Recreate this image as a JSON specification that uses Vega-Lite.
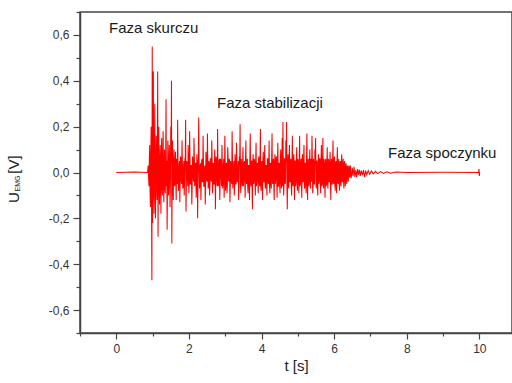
{
"$schema": "https://vega.github.io/schema/vega-lite/v6.json",
"width": 432, "height": 321,
"autosize": {"type": "none"},
"padding": {"left": 80, "top": 12, "right": 0, "bottom": 50},
"background": "white",
"config": {"view": {"stroke": "#444", "strokeWidth": 1.5}, "font": "Liberation Sans"},
"resolve": {"axis": {"x": "independent", "y": "independent"}},
"layer": [
{
"data": {"values": [
{"t":0,"u":0},{"t":0.5,"u":0.002},{"t":0.86,"u":0},
{"t":0.88,"u":0.03},{"t":0.90,"u":-0.06},{"t":0.92,"u":0.12},{"t":0.94,"u":-0.15},{"t":0.96,"u":0.2},{"t":0.98,"u":-0.47},{"t":0.99,"u":0.55},{"t":1.00,"u":-0.22},{"t":1.02,"u":0.44},{"t":1.04,"u":-0.18},{"t":1.06,"u":0.3},{"t":1.08,"u":-0.2},{"t":1.10,"u":0.16},{"t":1.12,"u":-0.12},{"t":1.14,"u":0.44},{"t":1.15,"u":-0.28},{"t":1.17,"u":0.2},{"t":1.19,"u":-0.14},{"t":1.21,"u":0.12},{"t":1.23,"u":-0.18},{"t":1.25,"u":0.15},{"t":1.27,"u":-0.1},{"t":1.29,"u":0.18},{"t":1.31,"u":-0.13},{"t":1.33,"u":0.1},{"t":1.35,"u":-0.09},{"t":1.37,"u":0.32},{"t":1.40,"u":-0.25},{"t":1.42,"u":0.14},{"t":1.44,"u":-0.1},{"t":1.46,"u":0.12},{"t":1.48,"u":-0.15},{"t":1.50,"u":0.2},{"t":1.52,"u":0.40},{"t":1.53,"u":-0.31},{"t":1.55,"u":0.14},{"t":1.57,"u":-0.12},{"t":1.59,"u":0.1},
{"t":0.89,"u":-0.02},{"t":0.91,"u":0.05},{"t":0.93,"u":-0.08},{"t":0.95,"u":0.06},{"t":0.97,"u":-0.1},{"t":1.01,"u":0.08},{"t":1.03,"u":-0.07},{"t":1.05,"u":0.06},{"t":1.07,"u":-0.08},{"t":1.09,"u":0.05},{"t":1.11,"u":-0.06},{"t":1.13,"u":0.07},{"t":1.16,"u":0.05},{"t":1.18,"u":-0.06},{"t":1.20,"u":0.04},{"t":1.22,"u":-0.07},{"t":1.24,"u":0.06},{"t":1.26,"u":-0.05},{"t":1.28,"u":0.07},{"t":1.30,"u":-0.06},{"t":1.32,"u":0.05},{"t":1.34,"u":-0.07},{"t":1.36,"u":0.04},{"t":1.38,"u":-0.06},{"t":1.39,"u":0.05},{"t":1.41,"u":-0.05},{"t":1.43,"u":0.06},{"t":1.45,"u":-0.04},{"t":1.47,"u":0.05},{"t":1.49,"u":-0.06},{"t":1.51,"u":0.04},{"t":1.54,"u":0.05},{"t":1.56,"u":-0.06},{"t":1.58,"u":0.05},{"t":1.60,"u":-0.05},
{"t":1.61,"u":-0.06},{"t":1.63,"u":0.09},{"t":1.65,"u":-0.12},{"t":1.67,"u":0.04},{"t":1.69,"u":0.23},{"t":1.71,"u":-0.08},{"t":1.73,"u":0.03},{"t":1.75,"u":-0.13},{"t":1.77,"u":0.07},{"t":1.79,"u":-0.04},
{"t":1.81,"u":0.14},{"t":1.83,"u":-0.07},{"t":1.85,"u":0.02},{"t":1.87,"u":-0.1},{"t":1.89,"u":0.06},{"t":1.91,"u":0.23},{"t":1.92,"u":-0.17},{"t":1.94,"u":0.05},{"t":1.96,"u":-0.03},{"t":1.98,"u":0.12},
{"t":2.00,"u":-0.09},{"t":2.02,"u":0.18},{"t":2.04,"u":-0.05},{"t":2.06,"u":0.03},{"t":2.08,"u":-0.14},{"t":2.10,"u":0.07},{"t":2.12,"u":-0.02},{"t":2.14,"u":0.15},{"t":2.16,"u":-0.06},{"t":2.18,"u":0.04},
{"t":2.20,"u":-0.11},{"t":2.22,"u":0.08},{"t":2.24,"u":-0.2},{"t":2.26,"u":0.06},{"t":2.27,"u":0.24},{"t":2.29,"u":-0.07},{"t":2.31,"u":0.03},{"t":2.33,"u":-0.12},{"t":2.35,"u":0.05},{"t":2.37,"u":-0.04},
{"t":2.39,"u":0.16},{"t":2.41,"u":-0.06},{"t":2.43,"u":0.02},{"t":2.45,"u":-0.14},{"t":2.47,"u":0.09},{"t":2.49,"u":-0.03},{"t":2.51,"u":0.17},{"t":2.53,"u":-0.07},{"t":2.55,"u":0.05},{"t":2.57,"u":-0.1},
{"t":2.59,"u":0.06},{"t":2.61,"u":-0.03},{"t":2.63,"u":0.14},{"t":2.65,"u":-0.09},{"t":2.67,"u":0.04},{"t":2.69,"u":-0.05},{"t":2.71,"u":0.1},{"t":2.73,"u":-0.16},{"t":2.75,"u":0.07},{"t":2.77,"u":-0.04},
{"t":2.79,"u":0.19},{"t":2.81,"u":-0.06},{"t":2.83,"u":0.05},{"t":2.85,"u":-0.12},{"t":2.87,"u":0.06},{"t":2.89,"u":-0.02},{"t":2.91,"u":0.12},{"t":2.93,"u":-0.07},{"t":2.95,"u":0.03},{"t":2.97,"u":-0.11},
{"t":2.99,"u":0.16},{"t":3.01,"u":-0.08},{"t":3.03,"u":0.04},{"t":3.05,"u":-0.09},{"t":3.07,"u":0.11},{"t":3.09,"u":-0.03},{"t":3.11,"u":0.06},{"t":3.13,"u":-0.13},{"t":3.15,"u":0.05},{"t":3.17,"u":-0.04},
{"t":3.19,"u":0.18},{"t":3.21,"u":-0.07},{"t":3.23,"u":0.03},{"t":3.25,"u":-0.1},{"t":3.27,"u":0.08},{"t":3.29,"u":-0.05},{"t":3.31,"u":0.13},{"t":3.33,"u":-0.04},{"t":3.35,"u":0.02},{"t":3.37,"u":-0.12},
{"t":3.39,"u":0.07},{"t":3.41,"u":0.21},{"t":3.43,"u":-0.09},{"t":3.45,"u":0.04},{"t":3.47,"u":-0.06},{"t":3.49,"u":0.11},{"t":3.51,"u":-0.03},{"t":3.53,"u":0.05},{"t":3.55,"u":-0.11},{"t":3.57,"u":0.14},
{"t":3.59,"u":-0.05},{"t":3.61,"u":0.06},{"t":3.63,"u":-0.09},{"t":3.65,"u":0.03},{"t":3.67,"u":-0.12},{"t":3.69,"u":0.17},{"t":3.71,"u":-0.06},{"t":3.73,"u":0.05},{"t":3.75,"u":-0.16},{"t":3.77,"u":0.08},
{"t":3.79,"u":-0.04},{"t":3.81,"u":0.05},{"t":3.83,"u":-0.1},{"t":3.85,"u":0.13},{"t":3.87,"u":-0.03},{"t":3.89,"u":0.04},{"t":3.91,"u":-0.09},{"t":3.93,"u":0.07},{"t":3.95,"u":-0.06},{"t":3.97,"u":0.19},
{"t":3.99,"u":-0.08},{"t":4.01,"u":0.05},{"t":4.03,"u":-0.12},{"t":4.05,"u":0.09},{"t":4.07,"u":-0.04},{"t":4.09,"u":0.12},{"t":4.11,"u":-0.07},{"t":4.13,"u":0.03},{"t":4.15,"u":-0.1},{"t":4.17,"u":0.06},
{"t":4.19,"u":-0.05},{"t":4.21,"u":0.14},{"t":4.23,"u":-0.09},{"t":4.25,"u":0.04},{"t":4.27,"u":-0.07},{"t":4.29,"u":0.17},{"t":4.31,"u":-0.05},{"t":4.33,"u":0.06},{"t":4.35,"u":-0.12},{"t":4.37,"u":0.08},
{"t":4.39,"u":-0.03},{"t":4.41,"u":0.07},{"t":4.43,"u":-0.11},{"t":4.45,"u":0.13},{"t":4.47,"u":-0.06},{"t":4.49,"u":0.04},{"t":4.51,"u":-0.09},{"t":4.53,"u":0.1},{"t":4.55,"u":-0.07},{"t":4.57,"u":0.15},
{"t":4.59,"u":0.22},{"t":4.61,"u":-0.1},{"t":4.63,"u":0.06},{"t":4.65,"u":-0.05},{"t":4.67,"u":0.14},{"t":4.69,"u":0.22},{"t":4.71,"u":-0.16},{"t":4.73,"u":0.08},{"t":4.75,"u":-0.07},{"t":4.77,"u":0.12},
{"t":4.79,"u":-0.04},{"t":4.81,"u":0.06},{"t":4.83,"u":-0.1},{"t":4.85,"u":0.16},{"t":4.87,"u":-0.06},{"t":4.89,"u":0.08},{"t":4.91,"u":-0.12},{"t":4.93,"u":0.05},{"t":4.95,"u":-0.04},{"t":4.97,"u":0.11},
{"t":4.99,"u":-0.08},{"t":5.01,"u":0.05},{"t":5.03,"u":-0.09},{"t":5.05,"u":0.16},{"t":5.07,"u":-0.05},{"t":5.09,"u":0.06},{"t":5.11,"u":-0.11},{"t":5.13,"u":0.08},{"t":5.15,"u":-0.04},{"t":5.17,"u":0.12},
{"t":5.19,"u":-0.07},{"t":5.21,"u":0.04},{"t":5.23,"u":-0.09},{"t":5.25,"u":0.17},{"t":5.27,"u":-0.12},{"t":5.29,"u":0.06},{"t":5.31,"u":-0.04},{"t":5.33,"u":0.1},{"t":5.35,"u":-0.07},{"t":5.37,"u":0.05},
{"t":5.39,"u":0.16},{"t":5.41,"u":-0.09},{"t":5.43,"u":0.06},{"t":5.45,"u":-0.05},{"t":5.47,"u":0.1},{"t":5.49,"u":0.15},{"t":5.51,"u":-0.07},{"t":5.53,"u":0.05},{"t":5.55,"u":-0.1},{"t":5.57,"u":0.08},
{"t":5.59,"u":-0.04},{"t":5.61,"u":0.06},{"t":5.63,"u":-0.09},{"t":5.65,"u":0.12},{"t":5.67,"u":-0.05},{"t":5.69,"u":0.15},{"t":5.71,"u":-0.07},{"t":5.73,"u":0.04},{"t":5.75,"u":-0.11},{"t":5.77,"u":0.06},
{"t":5.79,"u":-0.05},{"t":5.81,"u":0.11},{"t":5.83,"u":-0.07},{"t":5.85,"u":0.05},{"t":5.87,"u":-0.04},{"t":5.89,"u":0.09},{"t":5.91,"u":-0.12},{"t":5.93,"u":0.06},{"t":5.95,"u":-0.05},{"t":5.97,"u":0.14},
{"t":5.99,"u":-0.05},{"t":6.01,"u":0.07},{"t":6.03,"u":-0.08},{"t":6.05,"u":0.05},{"t":6.07,"u":-0.09},{"t":6.09,"u":0.11},{"t":6.11,"u":-0.05},{"t":6.13,"u":0.06},{"t":6.15,"u":-0.08},{"t":6.17,"u":0.05},
{"t":6.19,"u":-0.06},{"t":6.21,"u":0.08},{"t":6.23,"u":-0.04},{"t":6.25,"u":0.06},{"t":6.27,"u":-0.07},{"t":6.29,"u":0.05},{"t":6.31,"u":-0.06},{"t":6.33,"u":0.04},{"t":6.35,"u":-0.05},{"t":6.37,"u":0.03},{"t":6.39,"u":-0.04},{"t":6.41,"u":0.03},{"t":6.43,"u":-0.02},{"t":6.45,"u":0.03},{"t":6.47,"u":-0.025},
{"t":1.62,"u":0.05},{"t":1.64,"u":-0.04},{"t":1.66,"u":0.06},{"t":1.68,"u":-0.05},{"t":1.70,"u":0.03},{"t":1.72,"u":-0.06},{"t":1.74,"u":0.05},{"t":1.76,"u":-0.03},{"t":1.78,"u":0.06},{"t":1.80,"u":-0.05},{"t":1.82,"u":0.04},{"t":1.84,"u":-0.06},{"t":1.86,"u":0.05},{"t":1.88,"u":-0.04},{"t":1.90,"u":0.06},
{"t":1.93,"u":-0.05},{"t":1.95,"u":0.04},{"t":1.97,"u":-0.06},{"t":1.99,"u":0.05},{"t":2.01,"u":-0.04},{"t":2.03,"u":0.06},{"t":2.05,"u":-0.05},{"t":2.07,"u":0.03},{"t":2.09,"u":-0.06},{"t":2.11,"u":0.05},{"t":2.13,"u":-0.04},{"t":2.15,"u":0.06},{"t":2.17,"u":-0.05},{"t":2.19,"u":0.04},{"t":2.21,"u":-0.06},{"t":2.23,"u":0.05},{"t":2.25,"u":-0.04},
{"t":2.28,"u":0.05},{"t":2.30,"u":-0.06},{"t":2.32,"u":0.04},{"t":2.34,"u":-0.05},{"t":2.36,"u":0.06},{"t":2.38,"u":-0.04},{"t":2.40,"u":0.05},{"t":2.42,"u":-0.06},{"t":2.44,"u":0.03},{"t":2.46,"u":-0.05},{"t":2.48,"u":0.06},{"t":2.50,"u":-0.04},{"t":2.52,"u":0.05},{"t":2.54,"u":-0.06},{"t":2.56,"u":0.04},{"t":2.58,"u":-0.05},{"t":2.60,"u":0.06},{"t":2.62,"u":-0.04},{"t":2.64,"u":0.05},{"t":2.66,"u":-0.06},{"t":2.68,"u":0.04},{"t":2.70,"u":-0.05},{"t":2.72,"u":0.06},{"t":2.74,"u":-0.04},{"t":2.76,"u":0.05},{"t":2.78,"u":-0.06},{"t":2.80,"u":0.03},{"t":2.82,"u":-0.05},{"t":2.84,"u":0.06},{"t":2.86,"u":-0.04},{"t":2.88,"u":0.05},{"t":2.90,"u":-0.06},{"t":2.92,"u":0.04},{"t":2.94,"u":-0.05},{"t":2.96,"u":0.06},{"t":2.98,"u":-0.04},
{"t":3.00,"u":0.05},{"t":3.02,"u":-0.06},{"t":3.04,"u":0.04},{"t":3.06,"u":-0.05},{"t":3.08,"u":0.06},{"t":3.10,"u":-0.04},{"t":3.12,"u":0.05},{"t":3.14,"u":-0.06},{"t":3.16,"u":0.03},{"t":3.18,"u":-0.05},{"t":3.20,"u":0.06},{"t":3.22,"u":-0.04},{"t":3.24,"u":0.05},{"t":3.26,"u":-0.06},{"t":3.28,"u":0.04},{"t":3.30,"u":-0.05},{"t":3.32,"u":0.06},{"t":3.34,"u":-0.04},{"t":3.36,"u":0.05},{"t":3.38,"u":-0.06},{"t":3.40,"u":0.04},{"t":3.42,"u":-0.05},{"t":3.44,"u":0.06},{"t":3.46,"u":-0.04},{"t":3.48,"u":0.05},{"t":3.50,"u":-0.06},
{"t":3.52,"u":0.04},{"t":3.54,"u":-0.05},{"t":3.56,"u":0.06},{"t":3.58,"u":-0.04},{"t":3.60,"u":0.05},{"t":3.62,"u":-0.06},{"t":3.64,"u":0.03},{"t":3.66,"u":-0.05},{"t":3.68,"u":0.06},{"t":3.70,"u":-0.04},{"t":3.72,"u":0.05},{"t":3.74,"u":-0.06},{"t":3.76,"u":0.04},{"t":3.78,"u":-0.05},{"t":3.80,"u":0.06},{"t":3.82,"u":-0.04},{"t":3.84,"u":0.05},{"t":3.86,"u":-0.06},{"t":3.88,"u":0.04},{"t":3.90,"u":-0.05},{"t":3.92,"u":0.06},{"t":3.94,"u":-0.04},{"t":3.96,"u":0.05},{"t":3.98,"u":-0.06},
{"t":4.00,"u":0.04},{"t":4.02,"u":-0.05},{"t":4.04,"u":0.06},{"t":4.06,"u":-0.04},{"t":4.08,"u":0.05},{"t":4.10,"u":-0.06},{"t":4.12,"u":0.03},{"t":4.14,"u":-0.05},{"t":4.16,"u":0.06},{"t":4.18,"u":-0.04},{"t":4.20,"u":0.05},{"t":4.22,"u":-0.06},{"t":4.24,"u":0.04},{"t":4.26,"u":-0.05},{"t":4.28,"u":0.06},{"t":4.30,"u":-0.04},{"t":4.32,"u":0.05},{"t":4.34,"u":-0.06},{"t":4.36,"u":0.04},{"t":4.38,"u":-0.05},{"t":4.40,"u":0.06},{"t":4.42,"u":-0.04},{"t":4.44,"u":0.05},{"t":4.46,"u":-0.06},{"t":4.48,"u":0.04},{"t":4.50,"u":-0.05},
{"t":4.52,"u":0.06},{"t":4.54,"u":-0.04},{"t":4.56,"u":0.05},{"t":4.58,"u":-0.06},{"t":4.60,"u":0.03},{"t":4.62,"u":-0.05},{"t":4.64,"u":0.06},{"t":4.66,"u":-0.04},{"t":4.68,"u":0.05},{"t":4.70,"u":-0.06},{"t":4.72,"u":0.04},{"t":4.74,"u":-0.05},{"t":4.76,"u":0.06},{"t":4.78,"u":-0.04},{"t":4.80,"u":0.05},{"t":4.82,"u":-0.06},{"t":4.84,"u":0.04},{"t":4.86,"u":-0.05},{"t":4.88,"u":0.06},{"t":4.90,"u":-0.04},{"t":4.92,"u":0.05},{"t":4.94,"u":-0.06},{"t":4.96,"u":0.04},{"t":4.98,"u":-0.05},
{"t":5.00,"u":0.06},{"t":5.02,"u":-0.04},{"t":5.04,"u":0.05},{"t":5.06,"u":-0.06},{"t":5.08,"u":0.03},{"t":5.10,"u":-0.05},{"t":5.12,"u":0.06},{"t":5.14,"u":-0.04},{"t":5.16,"u":0.05},{"t":5.18,"u":-0.06},{"t":5.20,"u":0.04},{"t":5.22,"u":-0.05},{"t":5.24,"u":0.06},{"t":5.26,"u":-0.04},{"t":5.28,"u":0.05},{"t":5.30,"u":-0.06},{"t":5.32,"u":0.04},{"t":5.34,"u":-0.05},{"t":5.36,"u":0.06},{"t":5.38,"u":-0.04},{"t":5.40,"u":0.05},{"t":5.42,"u":-0.06},{"t":5.44,"u":0.04},{"t":5.46,"u":-0.05},{"t":5.48,"u":0.06},{"t":5.50,"u":-0.04},
{"t":5.52,"u":0.05},{"t":5.54,"u":-0.06},{"t":5.56,"u":0.03},{"t":5.58,"u":-0.05},{"t":5.60,"u":0.06},{"t":5.62,"u":-0.04},{"t":5.64,"u":0.05},{"t":5.66,"u":-0.06},{"t":5.68,"u":0.04},{"t":5.70,"u":-0.05},{"t":5.72,"u":0.06},{"t":5.74,"u":-0.04},{"t":5.76,"u":0.05},{"t":5.78,"u":-0.06},{"t":5.80,"u":0.04},{"t":5.82,"u":-0.05},{"t":5.84,"u":0.06},{"t":5.86,"u":-0.04},{"t":5.88,"u":0.05},{"t":5.90,"u":-0.06},{"t":5.92,"u":0.04},{"t":5.94,"u":-0.05},{"t":5.96,"u":0.06},{"t":5.98,"u":-0.04},
{"t":6.00,"u":0.05},{"t":6.02,"u":-0.05},{"t":6.04,"u":0.04},{"t":6.06,"u":-0.05},{"t":6.08,"u":0.05},{"t":6.10,"u":-0.04},{"t":6.12,"u":0.04},{"t":6.14,"u":-0.05},{"t":6.16,"u":0.04},{"t":6.18,"u":-0.04},{"t":6.20,"u":0.05},{"t":6.22,"u":-0.04},{"t":6.24,"u":0.04},{"t":6.26,"u":-0.04},{"t":6.28,"u":0.04},{"t":6.30,"u":-0.035},{"t":6.32,"u":0.03},{"t":6.34,"u":-0.03},{"t":6.36,"u":0.025},{"t":6.38,"u":-0.025},{"t":6.40,"u":0.02},{"t":6.42,"u":-0.02},{"t":6.44,"u":0.02},{"t":6.46,"u":-0.015},
{"t":6.50,"u":0.02},{"t":6.52,"u":-0.015},{"t":6.55,"u":0.025},{"t":6.57,"u":-0.02},{"t":6.60,"u":0.01},{"t":6.62,"u":-0.02},{"t":6.65,"u":0.015},{"t":6.67,"u":-0.01},{"t":6.70,"u":0.012},{"t":6.72,"u":-0.015},{"t":6.75,"u":0.008},{"t":6.78,"u":-0.012},{"t":6.81,"u":0.01},{"t":6.84,"u":-0.02},{"t":6.87,"u":0.008},{"t":6.90,"u":-0.01},{"t":6.94,"u":0.008},{"t":6.98,"u":-0.008},{"t":7.03,"u":0.006},{"t":7.08,"u":-0.006},{"t":7.14,"u":0.005},{"t":7.20,"u":-0.005},{"t":7.28,"u":0.004},{"t":7.36,"u":-0.004},{"t":7.45,"u":0.003},{"t":7.55,"u":-0.003},{"t":7.7,"u":0.002},{"t":8.0,"u":0},{"t":9.0,"u":0.001},{"t":9.98,"u":0},{"t":9.99,"u":0.015},{"t":10.0,"u":-0.015},{"t":10.01,"u":0}
]},
"mark": {"type": "line", "color": "#ff0000", "strokeWidth": 1.05, "clip": true},
"encoding": {
"x": {"field": "t", "type": "quantitative", "scale": {"domain": [-1, 10.9], "nice": false, "zero": false},
"axis": {"title": "t [s]", "values": [0,2,4,6,8,10], "format": "d",
"grid": false, "domainColor": "#444", "domainWidth": 1.5, "tickColor": "#444", "tickWidth": 1.2, "tickSize": 6,
"labelFontSize": 12, "labelColor": "#333", "labelPadding": 4, "labelFont": "Liberation Sans",
"titleFontSize": 15, "titleFontWeight": "normal", "titleColor": "#222", "titlePadding": 4, "titleFont": "Liberation Sans"}},
"y": {"field": "u", "type": "quantitative", "scale": {"domain": [-0.7, 0.7], "nice": false, "zero": false},
"axis": {"title": null, "values": [-0.6,-0.4,-0.2,0,0.2,0.4,0.6],
"labelExpr": "replace((datum.value < -0.001 ? '-' : '') + format(abs(datum.value), '.1f'), '.', ',')",
"grid": false, "domainColor": "#444", "domainWidth": 1.5, "tickColor": "#444", "tickWidth": 1.2, "tickSize": 7,
"labelFontSize": 12, "labelColor": "#333", "labelPadding": 4, "labelFont": "Liberation Sans"}}
}
},
{
"data": {"values": [
{"t": -0.2, "u": 0.608, "label": "Faza skurczu"},
{"t": 2.774, "u": 0.281, "label": "Faza stabilizacji"},
{"t": 7.485, "u": 0.063, "label": "Faza spoczynku"}
]},
"mark": {"type": "text", "align": "left", "baseline": "alphabetic", "fontSize": 15, "color": "#1a1a1a", "font": "Liberation Sans"},
"encoding": {
"x": {"field": "t", "type": "quantitative", "axis": {"orient": "bottom", "title": null, "values": [-1,1,3,5,7,9], "labels": false, "domain": false, "grid": false, "tickColor": "#444", "tickWidth": 1.2, "tickSize": 3}},
"y": {"field": "u", "type": "quantitative", "axis": {"orient": "left", "title": null, "values": [-0.7,-0.5,-0.3,-0.1,0.1,0.3,0.5,0.7], "labels": false, "domain": false, "grid": false, "tickColor": "#444", "tickWidth": 1.2, "tickSize": 4}},
"text": {"field": "label"}}
},
{
"data": {"values": [{}]},
"mark": {"type": "text", "align": "left", "baseline": "alphabetic", "angle": 270, "fontSize": 15, "color": "#222", "clip": false, "font": "Liberation Sans"},
"encoding": {"x": {"datum": -2.672, "type": "quantitative", "axis": null}, "y": {"datum": -0.133, "type": "quantitative", "axis": null}, "text": {"value": "U"}}
},
{
"data": {"values": [{}]},
"mark": {"type": "text", "align": "left", "baseline": "alphabetic", "angle": 270, "fontSize": 7, "color": "#222", "clip": false, "font": "Liberation Sans"},
"encoding": {"x": {"datum": -2.66, "type": "quantitative", "axis": null}, "y": {"datum": -0.083, "type": "quantitative", "axis": null}, "text": {"value": "EMG"}}
},
{
"data": {"values": [{}]},
"mark": {"type": "text", "align": "left", "baseline": "alphabetic", "angle": 270, "fontSize": 15, "color": "#222", "clip": false, "font": "Liberation Sans"},
"encoding": {"x": {"datum": -2.672, "type": "quantitative", "axis": null}, "y": {"datum": -0.005, "type": "quantitative", "axis": null}, "text": {"value": "[V]"}}
}
]
}
